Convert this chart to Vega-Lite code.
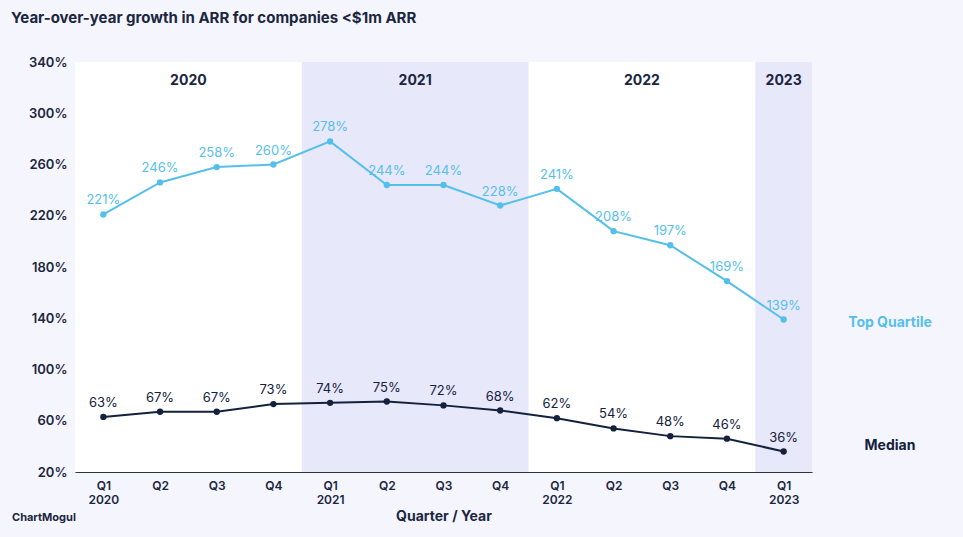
{
  "$schema": "https://vega.github.io/schema/vega-lite/v6.json",
  "width": 737,
  "height": 410,
  "autosize": "none",
  "padding": {"left": 75, "top": 62, "right": 151, "bottom": 65},
  "background": "#f5f5fd",
  "config": {
    "font": "Inter",
    "view": {"fill": "white", "stroke": null}
  },
  "title": {
    "text": "Year-over-year growth in ARR for companies <$1m ARR",
    "anchor": "start",
    "frame": "group",
    "dx": -64,
    "offset": 30,
    "fontSize": 15,
    "fontWeight": "bold",
    "color": "#1b2640"
  },
  "datasets": {
    "series": [
      {"i": 0.5, "s": "Top", "v": 221}, {"i": 1.5, "s": "Top", "v": 246}, {"i": 2.5, "s": "Top", "v": 258},
      {"i": 3.5, "s": "Top", "v": 260}, {"i": 4.5, "s": "Top", "v": 278}, {"i": 5.5, "s": "Top", "v": 244},
      {"i": 6.5, "s": "Top", "v": 244}, {"i": 7.5, "s": "Top", "v": 228}, {"i": 8.5, "s": "Top", "v": 241},
      {"i": 9.5, "s": "Top", "v": 208}, {"i": 10.5, "s": "Top", "v": 197}, {"i": 11.5, "s": "Top", "v": 169},
      {"i": 12.5, "s": "Top", "v": 139},
      {"i": 0.5, "s": "Median", "v": 63}, {"i": 1.5, "s": "Median", "v": 67}, {"i": 2.5, "s": "Median", "v": 67},
      {"i": 3.5, "s": "Median", "v": 73}, {"i": 4.5, "s": "Median", "v": 74}, {"i": 5.5, "s": "Median", "v": 75},
      {"i": 6.5, "s": "Median", "v": 72}, {"i": 7.5, "s": "Median", "v": 68}, {"i": 8.5, "s": "Median", "v": 62},
      {"i": 9.5, "s": "Median", "v": 54}, {"i": 10.5, "s": "Median", "v": 48}, {"i": 11.5, "s": "Median", "v": 46},
      {"i": 12.5, "s": "Median", "v": 36}
    ]
  },
  "layer": [
    {
      "data": {"values": [{"a": 4, "b": 8}, {"a": 12, "b": 13}]},
      "mark": {"type": "rect", "color": "#e8e8fb"},
      "encoding": {
        "x": {"field": "a", "type": "quantitative", "scale": {"domain": [0, 13], "nice": false, "zero": false}},
        "x2": {"field": "b"},
        "y": {"datum": 20, "type": "quantitative", "scale": {"domain": [20, 340], "nice": false, "zero": false}},
        "y2": {"datum": 340}
      }
    },
    {
      "data": {"values": [{"x": 2, "t": "2020"}, {"x": 6, "t": "2021"}, {"x": 10, "t": "2022"}, {"x": 12.5, "t": "2023"}]},
      "mark": {"type": "text", "fontSize": 14, "fontWeight": "bold", "color": "#1b2640"},
      "encoding": {
        "x": {"field": "x", "type": "quantitative"},
        "y": {"datum": 325, "type": "quantitative"},
        "text": {"field": "t"}
      }
    },
    {
      "data": {"name": "series"},
      "mark": {"type": "line", "strokeWidth": 2, "point": {"size": 40, "filled": true}},
      "encoding": {
        "x": {
          "field": "i", "type": "quantitative",
          "scale": {"domain": [0, 13], "nice": false, "zero": false},
          "axis": {
            "values": [0.5, 1.5, 2.5, 3.5, 4.5, 5.5, 6.5, 7.5, 8.5, 9.5, 10.5, 11.5, 12.5],
            "labelExpr": "floor(datum.value) % 4 == 0 ? ['Q1', '' + (2020 + floor(datum.value / 4))] : 'Q' + (floor(datum.value) % 4 + 1)",
            "grid": false, "ticks": false, "domainColor": "#333",
            "labelFontSize": 12, "labelFontWeight": 600, "labelColor": "#1b2640", "labelPadding": 8,
            "title": "Quarter / Year", "titleFontSize": 14, "titleColor": "#1b2640", "titlePadding": 4
          }
        },
        "y": {
          "field": "v", "type": "quantitative",
          "scale": {"domain": [20, 340], "nice": false, "zero": false},
          "axis": {
            "values": [20, 60, 100, 140, 180, 220, 260, 300, 340],
            "labelExpr": "datum.value + '%'",
            "domain": false, "ticks": false, "gridColor": "#dcdcdc",
            "labelFontSize": 13, "labelFontWeight": 600, "labelColor": "#1b2640", "labelPadding": 8,
            "title": null
          }
        },
        "color": {"field": "s", "type": "nominal", "scale": {"domain": ["Top", "Median"], "range": ["#55bfec", "#14213d"]}, "legend": null}
      }
    },
    {
      "data": {"name": "series"},
      "transform": [{"calculate": "datum.v + '%'", "as": "lab"}],
      "mark": {"type": "text", "dy": -14, "fontSize": 13},
      "encoding": {
        "x": {"field": "i", "type": "quantitative"},
        "y": {"field": "v", "type": "quantitative"},
        "text": {"field": "lab"},
        "color": {"field": "s", "type": "nominal", "legend": null}
      }
    },
    {
      "data": {"values": [{"y": 136, "t": "Top Quartile", "s": "Top"}, {"y": 40, "t": "Median", "s": "Median"}]},
      "mark": {"type": "text", "fontSize": 14, "fontWeight": "bold", "dx": 78},
      "encoding": {
        "x": {"datum": 13, "type": "quantitative"},
        "y": {"field": "y", "type": "quantitative"},
        "text": {"field": "t"},
        "color": {"field": "s", "type": "nominal", "legend": null}
      }
    },
    {
      "data": {"values": [{"t": "ChartMogul"}]},
      "mark": {"type": "text", "fontSize": 11, "fontWeight": "bold", "color": "#1b2640", "align": "left", "dx": -63, "dy": 46},
      "encoding": {
        "x": {"datum": 0, "type": "quantitative"},
        "y": {"datum": 20, "type": "quantitative"},
        "text": {"field": "t"}
      }
    }
  ]
}
